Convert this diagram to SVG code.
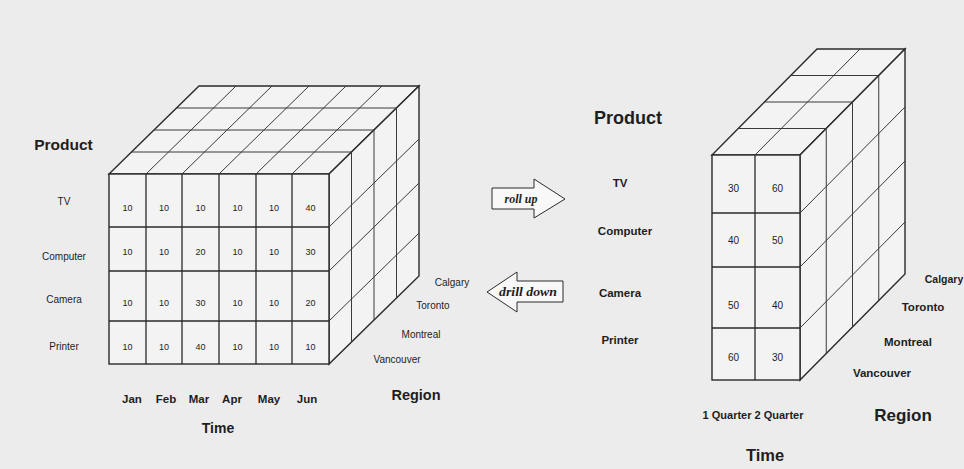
<svg xmlns="http://www.w3.org/2000/svg" width="964" height="469" viewBox="0 0 964 469">
<style>
.bg{fill:#ececec}
.face{fill:#f3f3f3;stroke:#2a2a2a;stroke-width:1.4}
.g{stroke:#2a2a2a;stroke-width:1.3;fill:none}
.t{stroke:#3a3a3a;stroke-width:1;fill:none}
text{font-family:"Liberation Sans",Arial,sans-serif;fill:#1e1e1e;text-anchor:middle}
.v{font-size:9px}
.vr{font-size:10px}
.rl{font-size:10px}
.rr{font-size:11.5px;font-weight:bold}
.ax{font-weight:bold}
.arrow{fill:#f8f8f8;stroke:#2a2a2a;stroke-width:1}
.al{font-family:"Liberation Serif","Times New Roman",serif;font-style:italic;font-weight:bold;font-size:12px}
</style>
<rect class="bg" x="0" y="0" width="964" height="469"/>

<g id="cube-left">
  <polygon class="face" points="109,174 329,174 419,86 199,86"/>
  <polygon class="face" points="329,174 419,86 419,276 329,364"/>
  <rect class="face" x="109" y="174" width="220" height="190"/>
  <g class="t">
    <line x1="131.5" y1="152" x2="351.5" y2="152"/>
    <line x1="154" y1="130" x2="374" y2="130"/>
    <line x1="176.5" y1="108" x2="396.5" y2="108"/>
    <line x1="146" y1="174" x2="236" y2="86"/>
    <line x1="182" y1="174" x2="272" y2="86"/>
    <line x1="219" y1="174" x2="309" y2="86"/>
    <line x1="256" y1="174" x2="346" y2="86"/>
    <line x1="292" y1="174" x2="382" y2="86"/>
    <line x1="351.5" y1="152" x2="351.5" y2="342"/>
    <line x1="374" y1="130" x2="374" y2="320"/>
    <line x1="396.5" y1="108" x2="396.5" y2="298"/>
    <line x1="329" y1="227" x2="419" y2="139"/>
    <line x1="329" y1="271" x2="419" y2="183"/>
    <line x1="329" y1="321" x2="419" y2="233"/>
  </g>
  <g class="g">
    <line x1="146" y1="174" x2="146" y2="364"/>
    <line x1="182" y1="174" x2="182" y2="364"/>
    <line x1="219" y1="174" x2="219" y2="364"/>
    <line x1="256" y1="174" x2="256" y2="364"/>
    <line x1="292" y1="174" x2="292" y2="364"/>
    <line x1="109" y1="227" x2="329" y2="227"/>
    <line x1="109" y1="271" x2="329" y2="271"/>
    <line x1="109" y1="321" x2="329" y2="321"/>
  </g>
  <g class="v">
    <text x="127.5" y="211">10</text><text x="164" y="211">10</text><text x="200.5" y="211">10</text><text x="237.5" y="211">10</text><text x="274" y="211">10</text><text x="310.5" y="211">40</text>
    <text x="127.5" y="255">10</text><text x="164" y="255">10</text><text x="200.5" y="255">20</text><text x="237.5" y="255">10</text><text x="274" y="255">10</text><text x="310.5" y="255">30</text>
    <text x="127.5" y="306">10</text><text x="164" y="306">10</text><text x="200.5" y="306">30</text><text x="237.5" y="306">10</text><text x="274" y="306">10</text><text x="310.5" y="306">20</text>
    <text x="127.5" y="350">10</text><text x="164" y="350">10</text><text x="200.5" y="350">40</text><text x="237.5" y="350">10</text><text x="274" y="350">10</text><text x="310.5" y="350">10</text>
  </g>
  <text class="ax" x="63.5" y="150" font-size="15.5">Product</text>
  <g class="rl">
    <text x="64" y="204.5">TV</text>
    <text x="64" y="259.5">Computer</text>
    <text x="64" y="302.5">Camera</text>
    <text x="64" y="349.5">Printer</text>
  </g>
  <g class="ax" font-size="11.5">
    <text x="132" y="403">Jan</text>
    <text x="166" y="403">Feb</text>
    <text x="199" y="403">Mar</text>
    <text x="232" y="403">Apr</text>
    <text x="269" y="403">May</text>
    <text x="307" y="403">Jun</text>
  </g>
  <text class="ax" x="218" y="433" font-size="14">Time</text>
  <text class="ax" x="416" y="400" font-size="14.5">Region</text>
  <g class="rl">
    <text x="452" y="285.5">Calgary</text>
    <text x="433" y="308.5">Toronto</text>
    <text x="421" y="337.5">Montreal</text>
    <text x="397" y="362.5">Vancouver</text>
  </g>
</g>

<g id="cube-right">
  <polygon class="face" points="712,155 800,155 905,49 817,49"/>
  <polygon class="face" points="800,155 905,49 905,274 800,380"/>
  <rect class="face" x="712" y="155" width="88" height="225"/>
  <g class="t">
    <line x1="738.25" y1="128.5" x2="826.25" y2="128.5"/>
    <line x1="764.5" y1="102" x2="852.5" y2="102"/>
    <line x1="790.75" y1="75.5" x2="878.75" y2="75.5"/>
    <line x1="755" y1="155" x2="860" y2="49"/>
    <line x1="826.25" y1="128.5" x2="826.25" y2="353.5"/>
    <line x1="852.5" y1="102" x2="852.5" y2="327"/>
    <line x1="878.75" y1="75.5" x2="878.75" y2="300.5"/>
    <line x1="800" y1="213" x2="905" y2="107"/>
    <line x1="800" y1="267" x2="905" y2="161"/>
    <line x1="800" y1="328" x2="905" y2="222"/>
  </g>
  <g class="g">
    <line x1="755" y1="155" x2="755" y2="380"/>
    <line x1="712" y1="213" x2="800" y2="213"/>
    <line x1="712" y1="267" x2="800" y2="267"/>
    <line x1="712" y1="328" x2="800" y2="328"/>
  </g>
  <g class="vr">
    <text x="733.5" y="191.5">30</text><text x="777.5" y="191.5">60</text>
    <text x="733.5" y="243.5">40</text><text x="777.5" y="243.5">50</text>
    <text x="733.5" y="308.5">50</text><text x="777.5" y="308.5">40</text>
    <text x="733.5" y="360.5">60</text><text x="777.5" y="360.5">30</text>
  </g>
  <text class="ax" x="628" y="124" font-size="18">Product</text>
  <g class="rr">
    <text x="620" y="187">TV</text>
    <text x="625" y="235">Computer</text>
    <text x="620" y="297">Camera</text>
    <text x="620" y="344">Printer</text>
  </g>
  <text class="ax" x="753" y="419" font-size="11">1 Quarter 2 Quarter</text>
  <text class="ax" x="765" y="461" font-size="16.5">Time</text>
  <text class="ax" x="903" y="421" font-size="17">Region</text>
  <g class="rr">
    <text x="944" y="283" font-size="10.5">Calgary</text>
    <text x="923" y="311">Toronto</text>
    <text x="908" y="346">Montreal</text>
    <text x="882" y="377">Vancouver</text>
  </g>
</g>

<g id="connectors">
  <g id="roll-up">
    <polygon class="arrow" points="492,188 534,188 534,179 565,199 534,218 534,209 492,209"/>
    <text class="al" x="521" y="202.5">roll up</text>
  </g>
  <g id="drill-down">
    <polygon class="arrow" points="487,292 517,272 517,281 563,281 563,302 517,302 517,312"/>
    <text class="al" x="528" y="296" textLength="58" lengthAdjust="spacingAndGlyphs">drill down</text>
  </g>
</g>
</svg>
